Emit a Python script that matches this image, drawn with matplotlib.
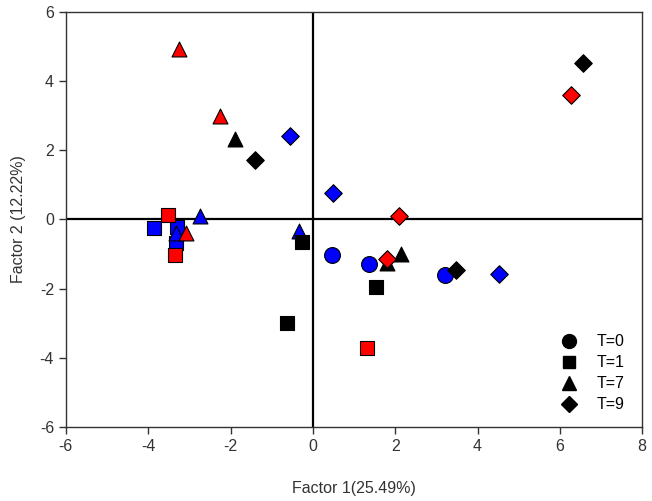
import matplotlib.pyplot as plt
from matplotlib.lines import Line2D

plt.rcParams['font.family'] = ['Liberation Sans', 'DejaVu Sans']
plt.rcParams['axes.unicode_minus'] = False

# blue group
blue_t0_x = [0.46, 1.37, 3.21]
blue_t0_y = [-1.03, -1.30, -1.61]
blue_t1_x = [-3.85, -3.31, -3.33]
blue_t1_y = [-0.24, -0.21, -0.69]
blue_t7_x = [-3.33, -2.74, -0.34]
blue_t7_y = [-0.40, 0.10, -0.33]
blue_t9_x = [-0.56, 0.48, 4.52]
blue_t9_y = [2.41, 0.76, -1.58]

# black group
black_t1_x = [-0.26, -0.64, 1.53]
black_t1_y = [-0.64, -3.00, -1.96]
black_t7_x = [-1.89, 2.14, 1.81]
black_t7_y = [2.33, -1.00, -1.27]
black_t9_x = [-1.41, 3.47, 6.57]
black_t9_y = [1.72, -1.46, 4.52]

# red group
red_t1_x = [-3.53, -3.36, 1.31]
red_t1_y = [0.12, -1.03, -3.73]
red_t7_x = [-3.25, -2.26, -3.08]
red_t7_y = [4.93, 2.99, -0.38]
red_t9_x = [6.27, 2.09, 1.81]
red_t9_y = [3.60, 0.10, -1.14]

legend_labels = ['T=0', 'T=1', 'T=7', 'T=9']

fig = plt.figure(figsize=(6.52, 5.01), dpi=100)
ax = fig.add_axes([0.101, 0.148, 0.884, 0.828])

ax.axhline(0, color='black', lw=1.6, zorder=1)
ax.axvline(0, color='black', lw=1.6, zorder=1)

sz = {'o': 130, 's': 100, '^': 115, 'D': 80}
ew = 0.8

def pts(x, y, m, c):
    ax.scatter(x, y, s=sz[m], marker=m, c=c, edgecolors='black', linewidths=ew, zorder=3)

pts(blue_t1_x, blue_t1_y, 's', '#0000ff')
pts(blue_t0_x, blue_t0_y, 'o', '#0000ff')
pts(blue_t7_x, blue_t7_y, '^', '#0000ff')
pts(blue_t9_x, blue_t9_y, 'D', '#0000ff')
pts(black_t1_x, black_t1_y, 's', 'black')
pts(black_t7_x, black_t7_y, '^', 'black')
pts(black_t9_x, black_t9_y, 'D', 'black')
pts(red_t1_x, red_t1_y, 's', '#ff0000')
pts(red_t7_x, red_t7_y, '^', '#ff0000')
pts(red_t9_x, red_t9_y, 'D', '#ff0000')

ax.set_xlim(-6, 8)
ax.set_ylim(-6, 6)
ax.set_xticks(range(-6, 9, 2))
ax.set_yticks(range(-6, 7, 2))
ax.tick_params(direction='out', length=5, width=1, labelsize=11.5, colors='#333333',
               top=False, right=False)
for sp in ax.spines.values():
    sp.set_color('#333333')
    sp.set_linewidth(1)

ax.set_xlabel('Factor 1(25.49%)', fontsize=11.5, color='#333333', labelpad=20)
ax.set_ylabel('Factor 2 (12.22%)', fontsize=11.5, color='#333333', labelpad=10)

handles = [Line2D([], [], ls='none', marker=m, color='black', markersize=ms)
           for m, ms in zip(['o', 's', '^', 'D'], [10, 9, 10, 8])]
ax.legend(handles, legend_labels, frameon=False, loc='lower right',
          bbox_to_anchor=(0.995, 0.0), fontsize=11.5, handletextpad=1.0,
          labelspacing=0.38, handlelength=1.5)

fig.savefig('out.png', dpi=100)
